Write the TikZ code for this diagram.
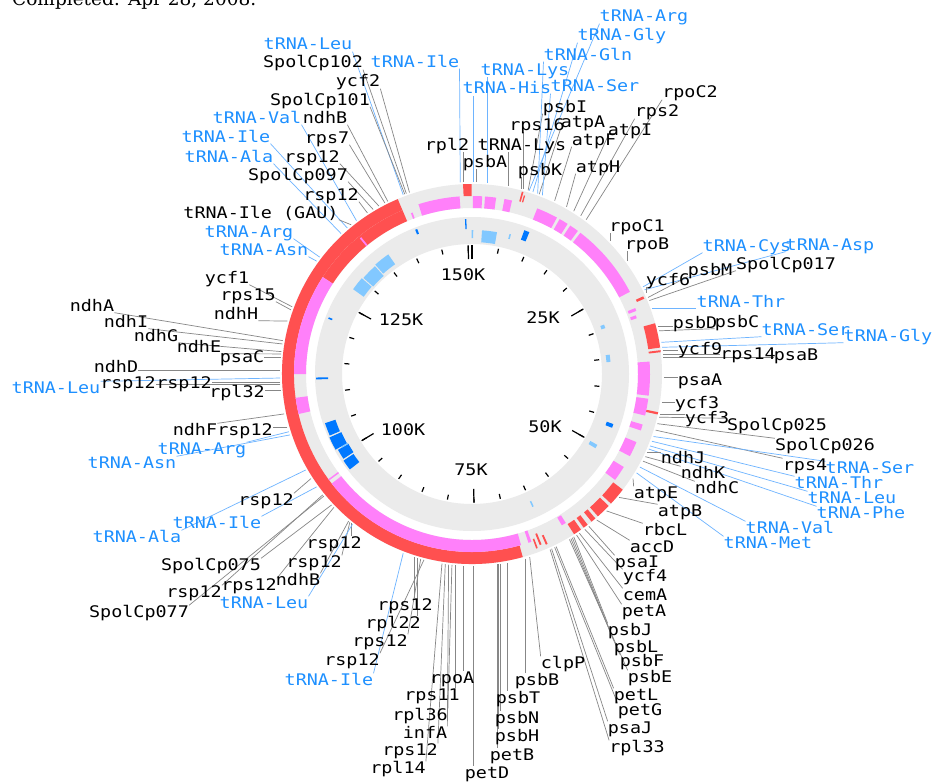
\documentclass[tikz,border=0pt]{standalone}
\usepackage{fontspec}
\usetikzlibrary{calc}
\newfontfamily\lblfont[FakeStretch=1.15]{DejaVu Sans Mono}
\newfontfamily\ttlfont{DejaVu Serif}
\definecolor{ringgray}{RGB}{235,235,235}
\definecolor{fred}{RGB}{255,80,80}
\definecolor{fpink}{RGB}{255,128,250}
\definecolor{flblue}{RGB}{130,200,255}
\definecolor{fdblue}{RGB}{0,120,255}
\definecolor{tblue}{RGB}{30,144,255}
\definecolor{lgray}{RGB}{135,135,135}
\definecolor{lblue}{RGB}{110,180,255}
\pgfdeclarelayer{bg}
\pgfdeclarelayer{lines}
\pgfsetlayers{bg,lines,main}
\newcommand\seg[5]{\fill[#1] ($(C)+({90-#2}:#5pt)$) arc[start angle={90-#2}, end angle={90-#3}, radius=#5pt] -- ($(C)+({90-#3}:#4pt)$) arc[start angle={90-#3}, end angle={90-#2}, radius=#4pt] -- cycle;}
\newcommand\gene[6]{%
  \coordinate (p#1) at ($(C)+({90-#3}:192pt)$);
  \node[#2] (n#1) at (#4,-#5) {#6};
  \begin{pgfonlayer}{lines}
  \draw[#2line] (p#1) let \p1=(n#1.south west), \p2=(n#1.north east), \p3=(p#1) in
    -- ({min(max(\x3,\x1),\x2)},{min(max(\y3,\y1),\y2)});
  \end{pgfonlayer}}
\begin{document}
\begin{tikzpicture}[x=1pt,y=1pt,
  lbl/.style={font=\lblfont\fontsize{16}{18}\selectfont, inner sep=0pt, text height=11.5pt, text depth=1.5pt},
  gk/.style={lbl, text=black},
  gb/.style={lbl, text=tblue},
  gkline/.style={draw=lgray, line width=0.7pt},
  gbline/.style={draw=lblue, line width=0.7pt},
  tk/.style={lbl, text=black},
  tick/.style={draw=black, line width=1.2pt}]
\useasboundingbox (0,0) rectangle (932,-784);
\begin{pgfonlayer}{bg}
\fill[white] (0,0) rectangle (932,-784);
\end{pgfonlayer}
\node[anchor=base west, inner sep=0pt, font=\ttlfont\fontsize{18.5}{20}\selectfont] (title) at (12,-5.5) {Completed: Apr 28, 2008.};
\coordinate (C) at (472,-374);
% rings
\fill[ringgray,even odd rule] (C) circle[radius=190pt] (C) circle[radius=166pt];
\fill[ringgray,even odd rule] (C) circle[radius=157pt] (C) circle[radius=130pt];
% outer red
\seg{fred}{357.3}{359.9}{178}{190}
\seg{fred}{15.3}{15.8}{179}{189}
\seg{fred}{16.2}{16.6}{179}{186}
\seg{fred}{65.6}{66.4}{180}{188}
\seg{fred}{74.5}{82}{178}{190}
\seg{fred}{82.8}{83.4}{178}{190}
\seg{fred}{101.6}{102.3}{178}{190}
\seg{fred}{127.5}{133}{178}{190}
\seg{fred}{134}{138.5}{178}{190}
\seg{fred}{139.5}{141}{178}{190}
\seg{fred}{142.5}{144}{178}{190}
\seg{fred}{145}{147.5}{178}{190}
\seg{fred}{156}{156.6}{176}{186}
\seg{fred}{157.8}{158.4}{172}{184}
\seg{fred}{159.3}{159.8}{176}{186}
\seg{fred}{164.5}{337}{178}{190}
\seg{fred}{303}{337}{166}{178}
% pink
\seg{fpink}{342.5}{356}{166}{178}
\seg{fpink}{0.3}{3.3}{166}{178}
\seg{fpink}{4.2}{7.8}{166}{178}
\seg{fpink}{10.5}{13}{166}{178}
\seg{fpink}{21.5}{28.5}{166}{178}
\seg{fpink}{29.5}{32.5}{166}{178}
\seg{fpink}{33.5}{36.5}{166}{178}
\seg{fpink}{37.5}{62.5}{166}{178}
\seg{fpink}{68}{69}{168}{176}
\seg{fpink}{70.3}{71.3}{168}{174}
\seg{fpink}{86}{97}{166}{178}
\seg{fpink}{98}{103.5}{166}{178}
\seg{fpink}{106.5}{108.5}{166}{178}
\seg{fpink}{112.5}{117.5}{166}{178}
\seg{fpink}{121.5}{126.5}{166}{178}
\seg{fpink}{147.8}{149.3}{167}{176}
\seg{fpink}{160.5}{161.5}{166}{178}
\seg{fpink}{164}{232}{166}{178}
\seg{fpink}{233.3}{233.8}{166}{178}
\seg{fpink}{257}{262.3}{166}{178}
\seg{fpink}{270}{303}{166}{178}
\seg{fpink}{320.4}{321}{166}{176}
\seg{fpink}{339.2}{339.8}{166}{172}
% inner ring features
\seg{flblue}{-0.2}{0.5}{136}{144}
\seg{flblue}{4}{10}{132}{144}
\seg{flblue}{305.5}{311}{133}{146}
\seg{flblue}{311.5}{318}{132}{145}
\seg{flblue}{318.5}{325}{134}{146}
\seg{flblue}{15}{15.6}{140}{145}
\seg{flblue}{69.5}{71}{137}{141}
\seg{flblue}{82}{85}{135}{139}
\seg{flblue}{119.5}{121}{136}{144}
\seg{flblue}{155}{155.6}{140}{146}
\seg{fdblue}{357.4}{357.9}{145}{155}
\seg{fdblue}{20}{22}{143}{153}
\seg{fdblue}{338.5}{339.3}{150}{155}
\seg{fdblue}{268}{268.7}{144}{156}
\seg{fdblue}{232}{236}{143}{155}
\seg{fdblue}{236.6}{240.5}{142}{154}
\seg{fdblue}{241}{246}{143}{156}
\seg{fdblue}{246.6}{251.5}{144}{155}
\seg{flblue}{240.5}{241}{142}{150}
\seg{fdblue}{109.5}{111}{143}{150}
\seg{fdblue}{291}{291.6}{150}{154}
% ticks
\foreach \k in {0,...,30} \draw[tick] ($(C)+({90-\k*11.94228}:123pt)$) -- ($(C)+({90-\k*11.94228}:128pt)$);
\foreach \k in {0,5,...,30} \draw[tick] ($(C)+({90-\k*11.94228}:115pt)$) -- ($(C)+({90-\k*11.94228}:129pt)$);
\node[tk] (t150) at (463,-275) {150K};
\node[tk] (t125) at (401,-320) {125K};
\node[tk] (t25) at (543,-318) {25K};
\node[tk] (t50) at (545,-427) {50K};
\node[tk] (t75) at (471,-470) {75K};
\node[tk] (t100) at (403,-430) {100K};
% labels: top-left
\gene{1}{gb}{339}{308}{45}{tRNA-Leu}
\gene{2}{gk}{340}{313}{63}{SpolCp102}
\gene{3}{gk}{341}{358}{82}{ycf2}
\gene{4}{gk}{339.5}{320}{100}{SpolCp101}
\gene{5}{gb}{323}{257}{118}{tRNA-Val}
\gene{6}{gk}{334}{325}{118}{ndhB}
\gene{7}{gb}{319.5}{226}{137}{tRNA-Ile}
\gene{8}{gk}{333}{327}{138}{rps7}
\gene{9}{gb}{317}{229}{157}{tRNA-Ala}
\gene{10}{gk}{331}{312}{157}{rsp12}
\gene{11}{gk}{329}{298}{175}{SpolCp097}
\gene{12}{gk}{327}{331}{195}{rsp12}
\gene{13}{gk}{321}{261}{213}{tRNA-Ile (GAU)}
\gene{14}{gb}{307.5}{249}{232}{tRNA-Arg}
\gene{15}{gb}{306}{264}{250}{tRNA-Asn}
% top
\gene{16}{gb}{356.5}{415}{62}{tRNA-Ile}
\gene{17}{gb}{4.5}{525}{70}{tRNA-Lys}
\gene{18}{gb}{0.3}{507}{89}{tRNA-His}
\gene{19}{gk}{357.5}{447}{145}{rpl2}
\gene{20}{gk}{1.2}{485}{162}{psbA}
\gene{21}{gk}{11}{522}{145}{tRNA-Lys}
\gene{22}{gk}{15.5}{537}{125}{rps16}
\gene{23}{gk}{17}{565}{107}{psbI}
\gene{24}{gk}{20.5}{583}{122}{atpA}
\gene{25}{gk}{15}{540}{170}{psbK}
\gene{26}{gb}{21.5}{595}{87}{tRNA-Ser}
\gene{27}{gb}{20}{588}{55}{tRNA-Gln}
\gene{28}{gb}{18.5}{622}{36}{tRNA-Gly}
\gene{29}{gb}{17.3}{644}{17}{tRNA-Arg}
\gene{30}{gk}{25.5}{594}{140}{atpF}
\gene{31}{gk}{29.5}{598}{167}{atpH}
\gene{32}{gk}{32}{630}{130}{atpI}
\gene{33}{gk}{34.5}{657}{112}{rps2}
\gene{34}{gk}{36.5}{690}{93}{rpoC2}
% right
\gene{35}{gk}{46}{637}{226}{rpoC1}
\gene{36}{gk}{54}{647}{244}{rpoB}
\gene{37}{gb}{63}{747}{246}{tRNA-Cys}
\gene{38}{gb}{64}{830}{245}{tRNA-Asp}
\gene{39}{gk}{65}{668}{280}{ycf6}
\gene{40}{gk}{66.5}{710}{270}{psbM}
\gene{41}{gk}{67.5}{786}{264}{SpolCp017}
\gene{42}{gb}{70}{741}{302}{tRNA-Thr}
\gene{43}{gk}{75.5}{695}{323}{psbD}
\gene{44}{gk}{77}{737}{322}{psbC}
\gene{45}{gb}{80.5}{806}{330}{tRNA-Ser}
\gene{46}{gb}{82}{888}{336}{tRNA-Gly}
\gene{47}{gk}{83}{700}{349}{ycf9}
\gene{48}{gk}{84}{748}{354}{rps14}
\gene{49}{gk}{85}{796}{355}{psaB}
\gene{50}{gk}{91}{700}{380}{psaA}
\gene{51}{gk}{98.5}{697}{403}{ycf3}
\gene{52}{gk}{102}{707}{418}{ycf3}
\gene{53}{gk}{103}{777}{425}{SpolCp025}
\gene{54}{gk}{105}{825}{445}{SpolCp026}
\gene{55}{gk}{107}{805}{465}{rps4}
\gene{56}{gb}{109}{870}{468}{tRNA-Ser}
\gene{57}{gb}{110.5}{839}{483}{tRNA-Thr}
\gene{58}{gb}{112}{852}{498}{tRNA-Leu}
\gene{59}{gb}{113}{861}{513}{tRNA-Phe}
\gene{60}{gk}{114}{683}{458}{ndhJ}
\gene{61}{gk}{115.5}{703}{473}{ndhK}
\gene{62}{gk}{117}{717}{488}{ndhC}
\gene{63}{gb}{119}{790}{528}{tRNA-Val}
\gene{64}{gb}{121}{768}{543}{tRNA-Met}
\gene{65}{gk}{123}{656}{493}{atpE}
\gene{66}{gk}{130}{680}{511}{atpB}
\gene{67}{gk}{135.5}{665}{530}{rbcL}
\gene{68}{gk}{139.5}{652}{547}{accD}
\gene{69}{gk}{142.5}{637}{562}{psaI}
\gene{70}{gk}{144}{645}{576}{ycf4}
\gene{71}{gk}{146}{645}{595}{cemA}
\gene{72}{gk}{147}{644}{611}{petA}
\gene{73}{gk}{148}{630}{630}{psbJ}
\gene{74}{gk}{148.5}{636}{647}{psbL}
\gene{75}{gk}{149}{642}{661}{psbF}
\gene{76}{gk}{149.5}{650}{677}{psbE}
\gene{77}{gk}{154}{636}{695}{petL}
\gene{78}{gk}{154.5}{640}{710}{petG}
\gene{79}{gk}{155.5}{630}{728}{psaJ}
\gene{80}{gk}{156}{637}{747}{rpl33}
% bottom
\gene{81}{gk}{162.5}{563}{663}{clpP}
\gene{82}{gk}{164}{537}{680}{psbB}
\gene{83}{gk}{169.5}{518}{698}{psbT}
\gene{84}{gk}{171.5}{517}{718}{psbN}
\gene{85}{gk}{172}{517}{736}{psbH}
\gene{86}{gk}{172.5}{512}{755}{petB}
\gene{87}{gk}{179.7}{487}{773}{petD}
\gene{88}{gk}{182.7}{452}{678}{rpoA}
\gene{89}{gk}{185}{432}{695}{rps11}
\gene{90}{gk}{186}{420}{715}{rpl36}
\gene{91}{gk}{187}{425}{733}{infA}
\gene{92}{gk}{188}{410}{750}{rps12}
\gene{93}{gk}{189}{398}{768}{rpl14}
\gene{94}{gk}{197.5}{405}{605}{rps12}
\gene{95}{gk}{196.5}{393}{623}{rpl22}
\gene{96}{gk}{195.5}{380}{641}{rps12}
\gene{97}{gk}{194.5}{352}{660}{rsp12}
\gene{98}{gb}{201}{329}{680}{tRNA-Ile}
% bottom-left
\gene{99}{gk}{219}{334}{543}{rsp12}
\gene{100}{gk}{219.5}{314}{562}{rsp12}
\gene{101}{gk}{220}{298}{580}{ndhB}
\gene{102}{gk}{226}{249}{585}{rps12}
\gene{103}{gb}{218.5}{264}{603}{tRNA-Leu}
\gene{104}{gk}{231}{194}{592}{rsp12}
\gene{105}{gk}{227}{211}{565}{SpolCp075}
\gene{106}{gk}{230.5}{139}{612}{SpolCp077}
\gene{107}{gb}{240}{137}{537}{tRNA-Ala}
\gene{108}{gb}{234}{217}{523}{tRNA-Ile}
\gene{109}{gk}{237}{266}{500}{rsp12}
% left
\gene{110}{gk}{258}{195}{430}{ndhF}
\gene{111}{gk}{254}{245}{430}{rsp12}
\gene{112}{gb}{252.5}{202}{449}{tRNA-Arg}
\gene{113}{gb}{251.5}{132}{463}{tRNA-Asn}
\gene{114}{gk}{265}{237}{392}{rpl32}
\gene{115}{gb}{268.8}{56}{388}{tRNA-Leu}
\gene{116}{gk}{267}{128}{383}{rsp12}
\gene{117}{gk}{267.5}{184}{383}{rsp12}
\gene{118}{gk}{271}{116}{367}{ndhD}
\gene{119}{gk}{275}{242}{357}{psaC}
\gene{120}{gk}{276}{199}{347}{ndhE}
\gene{121}{gk}{276.7}{156}{336}{ndhG}
\gene{122}{gk}{279}{126}{322}{ndhI}
\gene{123}{gk}{280}{92}{306}{ndhA}
\gene{124}{gk}{286}{236}{314}{ndhH}
\gene{125}{gk}{289.5}{248}{295}{rps15}
\gene{126}{gk}{290.5}{227}{278}{ycf1}
\end{tikzpicture}
\end{document}
